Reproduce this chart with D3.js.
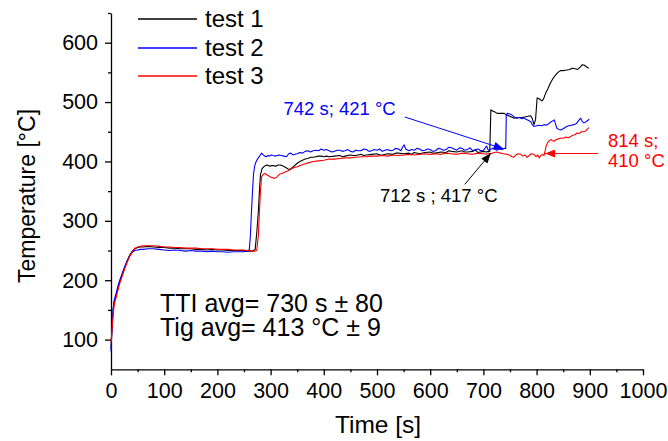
<!DOCTYPE html>
<html>
<head>
<meta charset="utf-8">
<script src="https://cdn.jsdelivr.net/npm/d3@7"></script>
<style>
  body { margin: 0; background: #fff; }
  svg text { font-family: "Liberation Sans", Arial, sans-serif; }
</style>
</head>
<body>
<div id="chart"></div>
<script>
// Temperature readings [time s, temperature °C]
var test1 = [[0,85],[2,120],[4,150],[6,163],[8,170],[10,176],[13,187],[16,197],[20,207],[25,220],[30,232],[35,242],[40,249],[45,253],[50,255],[55,256],[60,256],[70,257],[80,256],[90,255],[100,255],[110,254],[120,254],[130,253],[140,253],[150,253],[160,252],[170,252],[180,251],[190,252],[200,251],[210,251],[220,250],[230,250],[240,250],[250,250],
  [255,249],[260,249],[265,249],[268,250],[271,252],[274,280],[277,316],[279,350],[281,378],[284,388],[287,391],[290,393],[294,394],[298,392],[302,393],[306,393],[310,392],[314,394],[318,394],[322,393],[326,391],[330,389],[333,387],[336,387],[340,389],[345,393],[350,397],[355,400],[360,402],[365,404],[370,405],[375,407],[380,407],[385,408],[390,409],[395,409],[400,408],[405,409],[410,408],[420,409],[430,410],[435,408],[440,409],[450,411],[455,410],[460,410],[470,412],[475,410],[480,411],[490,412],[500,413],[505,411],[510,411],[520,413],[530,412],[535,414],[540,414],[550,413],[560,414],[565,412],[570,415],[580,413],[590,415],[600,416],[605,414],[610,414],[620,416],[630,415],[635,418],[640,417],[650,416],[660,418],[665,416],[670,416],[680,417],[685,419],[690,415],[700,417],[705,416],[710,417],[712,417],
  [714,487],[717,485],[720,484],[726,481],[732,481],[739,481],[744,478],[750,476],[757,473],[765,474],[772,474],[778,475],[784,476],[789,477],[792,472],[795,462],[798,470],[801,507],[804,506],[807,504],[810,502],[813,505],[817,515],[821,522],[826,532],[831,540],[836,546],[840,550],[845,553],[850,553],[857,554],[862,555],[867,557],[872,556],[877,555],[882,559],[886,563],[890,562],[894,559],[898,557]];

var test2 = [[0,80],[2,125],[4,152],[6,166],[8,173],[10,179],[13,190],[16,199],[20,209],[25,221],[30,232],[35,241],[40,247],[45,250],[50,251],[55,252],[60,252],[70,253],[80,253],[90,252],[100,251],[110,250],[120,251],[130,250],[140,249],[150,250],[160,249],[170,249],[180,248],[190,249],[200,248],[210,248],[220,247],[230,248],[240,248],[250,248],
  [255,249],[258,250],[260,252],[262,275],[264,315],[266,350],[268,380],[270,392],[272,398],[274,402],[277,406],[280,410],[283,414],[286,411],[289,409],[292,408],[295,410],[298,409],[301,411],[305,410],[310,409],[315,411],[320,410],[325,409],[330,408],[334,413],[338,414],[342,411],[346,412],[350,413],[355,415],[360,414],[365,417],[370,418],[375,416],[380,418],[385,419],[390,418],[395,421],[400,419],[405,420],[410,418],[415,416],[420,417],[425,419],[430,419],[435,417],[440,418],[445,420],[450,417],[455,416],[460,419],[465,418],[470,418],[475,421],[480,420],[485,417],[490,418],[495,420],[500,419],[505,421],[510,417],[515,419],[520,420],[525,418],[530,419],[535,422],[540,421],[545,418],[548,424],[551,428],[554,421],[560,418],[565,420],[570,419],[575,422],[580,421],[585,418],[590,419],[595,421],[600,420],[605,417],[610,418],[615,422],[620,421],[625,419],[630,420],[635,424],[640,423],[645,421],[650,419],[655,423],[660,422],[665,419],[670,420],[675,423],[680,418],[685,420],[690,421],[695,418],[700,419],[703,422],[706,426],[709,419],[713,420],[717,422],[720,422],[725,419],[730,421],[735,420],[739,422],[742,422],
  [743,478],[745,481],[750,480],[754,478],[758,475],[762,473],[768,474],[772,472],[776,473],[780,471],[785,469],[789,467],[792,462],[795,459],[800,460],[805,461],[810,460],[814,462],[818,461],[822,463],[826,466],[830,468],[833,470],[836,462],[838,456],[842,454],[845,453],[850,455],[855,458],[860,460],[865,461],[870,462],[875,464],[880,470],[883,473],[886,467],[889,465],[893,467],[896,469],[899,471]];

var test3 = [[0,95],[2,118],[4,142],[6,158],[8,166],[10,172],[13,183],[16,193],[20,204],[25,217],[30,229],[35,240],[40,248],[45,254],[50,256],[55,257],[60,258],[70,258],[80,258],[90,257],[100,256],[110,256],[120,255],[130,255],[140,254],[150,254],[160,254],[170,253],[180,253],[190,253],[200,252],[210,252],[220,252],[230,251],[240,251],[250,251],
  [255,250],[260,250],[265,249],[270,249],[274,250],[277,275],[279,316],[281,350],[283,374],[286,378],[289,380],[292,378],[296,376],[300,374],[305,372],[309,372],[312,374],[315,377],[318,379],[322,380],[326,382],[330,383],[335,385],[340,388],[345,390],[350,391],[358,394],[365,396],[372,398],[380,400],[390,401],[400,402],[410,404],[420,404],[430,405],[440,406],[450,406],[460,407],[470,408],[480,408],[490,409],[500,409],[510,410],[520,409],[530,411],[540,410],[550,411],[560,412],[570,411],[580,412],[590,413],[600,412],[610,413],[620,412],[630,414],[640,413],[650,412],[660,414],[670,413],[680,412],[690,414],[700,413],[705,412],[710,414],[714,413],[720,415],[726,416],[732,414],[738,413],[745,412],[750,410],[754,408],[757,407],[761,411],[765,413],[770,412],[774,409],[778,411],[782,407],[786,410],[790,413],[795,412],[799,408],[802,411],[805,406],[808,410],[811,412],[814,410],
  [816,418],[818,426],[821,432],[824,435],[827,437],[830,435],[833,434],[837,437],[841,438],[845,439],[850,439],[855,441],[860,440],[864,442],[868,444],[872,445],[876,448],[880,447],[884,450],[888,450],[892,451],[895,454],[898,457]];

var seriesNames = ["test 1", "test 2", "test 3"];
var xTicks = [0, 100, 200, 300, 400, 500, 600, 700, 800, 900, 1000];
var xMinorTicks = [50, 150, 250, 350, 450, 550, 650, 750, 850, 950];
var yTicks = [100, 200, 300, 400, 500, 600];
var yMinorTicks = [150, 250, 350, 450, 550, 650];

// ignition points marked with arrows
var ignTime = [742, 712, 814];
var ignTemp = [421, 417, 410];
var ignText = [["742 s; 421 °C"], ["712 s ; 417 °C"], ["814 s;", "410 °C"]];
var statsText = ["TTI avg= 730 s ± 80", "Tig avg= 413 °C ± 9"];

var svgWidth = 668;
var svgHeight = 441;
var margin = { top: 13, right: 25, bottom: 72, left: 111 };
var colors = ["#000000", "#0000ff", "#ff0000"];

var svg = d3.select("#chart")
  .append("svg")
  .attr("width", svgWidth)
  .attr("height", svgHeight);

var x = d3.scaleLinear().domain([0, 1000]).range([margin.left, 643]);
var y = d3.scaleLinear().domain([50, 650]).range([369.3, margin.top]);

// arrow heads, one per colour
var defs = svg.append("defs");
colors.forEach(function(c, i) {
  defs.append("marker")
    .attr("id", "arr" + i)
    .attr("markerUnits", "userSpaceOnUse")
    .attr("viewBox", "0 0 10 8")
    .attr("refX", 10).attr("refY", 4)
    .attr("markerWidth", 11).attr("markerHeight", 8)
    .attr("orient", "auto")
    .append("path")
    .attr("d", "M0,0L10,4L0,8Z")
    .attr("fill", c);
});

// axes
svg.append("g")
  .attr("transform", "translate(0," + y(50) + ")")
  .call(d3.axisBottom(x).tickValues(xTicks).tickFormat(d3.format("d"))
    .tickSize(6).tickSizeOuter(0).tickPadding(7));
svg.append("g")
  .attr("transform", "translate(0," + y(50) + ")")
  .call(d3.axisBottom(x).tickValues(xMinorTicks).tickSize(3).tickFormat(""))
  .select(".domain").remove();

svg.append("g")
  .attr("transform", "translate(" + x(0) + ",0)")
  .call(d3.axisLeft(y).tickValues(yTicks).tickFormat(d3.format("d"))
    .tickSize(6).tickSizeOuter(0).tickPadding(7));
svg.append("g")
  .attr("transform", "translate(" + x(0) + ",0)")
  .call(d3.axisLeft(y).tickValues(yMinorTicks).tickSize(3).tickFormat(""))
  .select(".domain").remove();

svg.selectAll(".tick text").attr("font-size", 21.5).attr("fill", "#000")
  .style("font-family", "'Liberation Sans', Arial, sans-serif");
svg.selectAll(".domain, .tick line").attr("stroke", "#000").attr("stroke-width", 1.3);

// axis titles
svg.append("text")
  .attr("transform", "translate(35,196) rotate(-90)")
  .attr("text-anchor", "middle")
  .attr("font-size", 23)
  .text("Temperature [°C]");
svg.append("text")
  .attr("x", 378).attr("y", 433)
  .attr("text-anchor", "middle")
  .attr("font-size", 24.5)
  .text("Time [s]");

// data lines
var line = d3.line()
  .x(function(d) { return x(d[0]); })
  .y(function(d) { return y(d[1]); });

[test1, test2, test3].forEach(function(s, i) {
  svg.append("path")
    .datum(s)
    .attr("d", line)
    .attr("fill", "none")
    .attr("stroke", colors[i])
    .attr("stroke-width", 1.1)
    .attr("stroke-linejoin", "round");
});

// legend
var legend = svg.append("g");
seriesNames.forEach(function(name, i) {
  var ly = [19, 48, 76][i];
  legend.append("path")
    .attr("d", "M138," + ly + "H197")
    .style("stroke", colors[i])
    .style("stroke-width", 1.3)
    .style("fill", "none");
  legend.append("text")
    .attr("x", 205).attr("y", ly)
    .attr("dy", "0.35em")
    .attr("font-size", 24)
    .text(name);
});

// ignition annotations: tail offset from tip, text anchor offset from tail
var ignColor = [1, 0, 2];
var arrowTail = [[-99, -32], [-26, 31], [53, 0]];
var textPos = [[-9, -2, "end"], [-26, 18, "middle"], [10, -7, "start"]];
var tipNudge = [[-2, 0], [1, 2], [1, -2]];
ignTime.forEach(function(t, i) {
  var c = colors[ignColor[i]];
  var tx = x(t) + tipNudge[i][0];
  var ty = y(ignTemp[i]) + tipNudge[i][1];
  var sx = tx + arrowTail[i][0];
  var sy = ty + arrowTail[i][1];
  svg.append("line")
    .attr("x1", sx).attr("y1", sy)
    .attr("x2", tx).attr("y2", ty)
    .attr("stroke", c)
    .attr("stroke-width", 1)
    .attr("marker-end", "url(#arr" + ignColor[i] + ")");
  var txt = svg.append("text")
    .attr("x", sx + textPos[i][0])
    .attr("y", sy + textPos[i][1])
    .attr("text-anchor", textPos[i][2])
    .attr("font-size", 18.5)
    .attr("fill", c);
  ignText[i].forEach(function(part, k) {
    txt.append("tspan")
      .attr("x", sx + textPos[i][0])
      .attr("dy", k === 0 ? 0 : 20)
      .text(part);
  });
});

// averages
statsText.forEach(function(s, i) {
  svg.append("text")
    .attr("x", 160).attr("y", 312 + i * 24)
    .attr("font-size", 25)
    .text(s);
});
</script>
</body>
</html>
